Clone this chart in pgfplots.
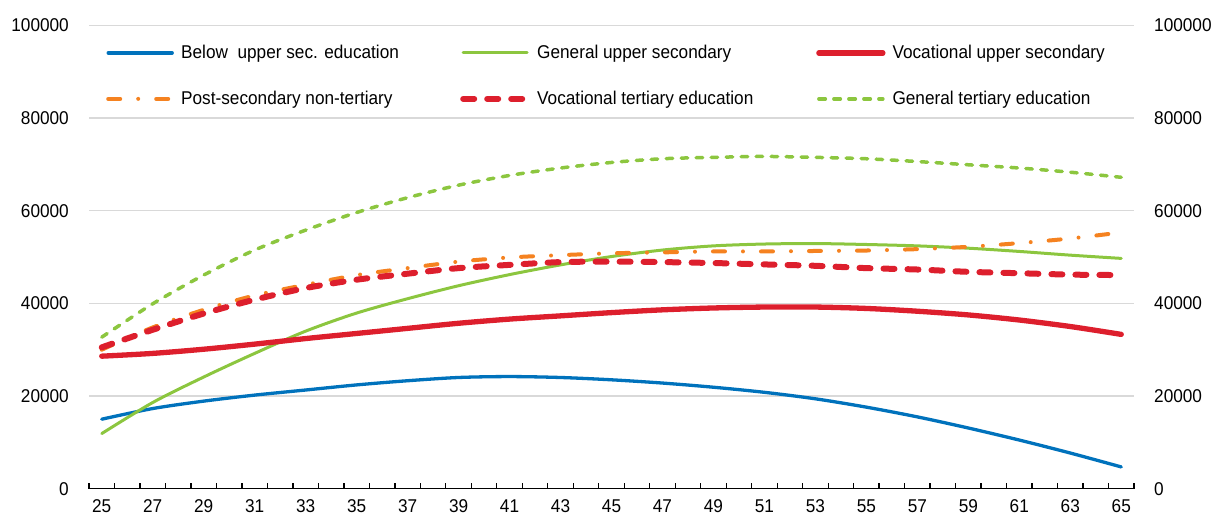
\documentclass[border=0pt]{standalone}
\usepackage{pgfplots}
\pgfplotsset{compat=1.18}
\usepackage{fontspec}
\setmainfont{Liberation Sans}[FakeStretch=0.93]
\definecolor{cblue}{RGB}{0,114,188}
\definecolor{cgreen}{RGB}{140,198,63}
\definecolor{cred}{RGB}{221,31,45}
\definecolor{corange}{RGB}{245,130,32}
\definecolor{cgrid}{RGB}{217,217,217}
\newcommand{\fs}{\fontsize{18.5}{22}\selectfont}
\begin{document}
\begin{tikzpicture}
\begin{axis}[
  name=ax,
  scale only axis, width=1045pt, height=463.4pt,
  xmin=24.5, xmax=65.5, ymin=0, ymax=100000,
  axis x line=bottom, axis y line=left,
  axis line style={-},
  x axis line style={-, black, line width=1.3pt},
  y axis line style={draw=none},
  xtick={25,27,...,65},
  minor xtick={24.5,25.5,...,65.5},
  xtick align=inside,
  major tick length=0pt,
  minor tick length=6pt,
  major x tick style={draw=none},
  minor x tick style={black, line width=1.3pt},
  ytick={0,20000,...,100000},
  scaled y ticks=false,
  ytick style={draw=none},
  ymajorgrids, major grid style={cgrid, line width=1.4pt},
  tick label style={font=\fs},
  /pgf/number format/assume math mode=true,
  /pgf/number format/1000 sep={},
  /pgf/number format/fixed,
  yticklabel style={anchor=east, inner sep=0pt, xshift=-20pt},
  xticklabel style={anchor=north, inner sep=0pt, yshift=-11pt},
  every axis plot/.append style={line cap=round, line join=round},
  legend columns=3,
  legend image code/.code={\draw[#1] (0pt,0pt) -- (64pt,0pt);},
  legend cell align=left,
  legend style={at={(axis description cs:0,1)}, anchor=north west,
    xshift=17pt, yshift=-20pt, draw=none, fill=none, inner sep=0pt,
    font=\fs, row sep=31pt, nodes={inner sep=0pt},
    /tikz/every odd column/.append style={column sep=7pt}},
]
\addplot[cblue, line width=3.3pt, smooth] coordinates {
(25,15000) (27,17300) (29,18900) (31,20200) (33,21300) (35,22400) (37,23300)
(39,24000) (41,24200) (43,24000) (45,23500) (47,22800) (49,21900) (51,20800)
(53,19400) (55,17600) (57,15500) (59,13100) (61,10500) (63,7700) (65,4700)};
\addlegendentry{\makebox[279pt][l]{Below\ \ upper sec. education}}
\addplot[cgreen, line width=3pt, smooth] coordinates {
(25,11900) (27,18600) (29,24100) (31,29200) (33,34000) (35,37900) (37,41000)
(39,43800) (41,46200) (43,48300) (45,50100) (47,51500) (49,52400) (51,52800)
(53,52900) (55,52700) (57,52400) (59,51900) (61,51200) (63,50400) (65,49700)};
\addlegendentry{\makebox[279pt][l]{General upper secondary}}
\addplot[cred, line width=5.3pt, smooth] coordinates {
(25,28600) (27,29200) (29,30100) (31,31200) (33,32400) (35,33500) (37,34600)
(39,35700) (41,36600) (43,37300) (45,38000) (47,38600) (49,39000) (51,39200)
(53,39200) (55,38900) (57,38300) (59,37500) (61,36400) (63,35000) (65,33300)};
\addlegendentry{\makebox[279pt][l]{Vocational upper secondary}}
\addplot[corange, line width=4pt, smooth, dash pattern=on 12pt off 18pt on 0pt off 18pt] coordinates {
(25,30000) (27,34800) (29,38600) (31,41700) (33,44000) (35,46100) (37,47600)
(39,49000) (41,49900) (43,50400) (45,50800) (47,51000) (49,51200) (51,51200)
(53,51300) (55,51400) (57,51700) (59,52200) (61,53000) (63,54000) (65,55300)};
\addlegendentry{\makebox[279pt][l]{Post-secondary non-tertiary}}
\addplot[cred, line width=6pt, smooth, dash pattern=on 11pt off 13pt] coordinates {
(25,30500) (27,34300) (29,37800) (31,40800) (33,43300) (35,45100) (37,46400)
(39,47600) (41,48300) (43,48900) (45,49000) (47,48900) (49,48700) (51,48400)
(53,48100) (55,47600) (57,47300) (59,46800) (61,46500) (63,46200) (65,46100)};
\addlegendentry{\makebox[279pt][l]{Vocational tertiary education}}
\addplot[cgreen, line width=3.5pt, smooth, dash pattern=on 6.5pt off 8.5pt] coordinates {
(25,32700) (27,39900) (29,46100) (31,51500) (33,55800) (35,59600) (37,62800)
(39,65500) (41,67600) (43,69200) (45,70400) (47,71200) (49,71500) (51,71700)
(53,71500) (55,71200) (57,70600) (59,69900) (61,69200) (63,68300) (65,67200)};
\addlegendentry{\makebox[279pt][l]{General tertiary education}}
\end{axis}
\begin{axis}[
  scale only axis, width=1045pt, height=463.4pt,
  xmin=24.5, xmax=65.5, ymin=0, ymax=100000,
  axis x line=none, axis y line=right,
  axis line style={-},
  y axis line style={draw=none},
  xtick=\empty,
  ytick={0,20000,...,100000},
  scaled y ticks=false,
  major tick length=0pt,
  ytick style={draw=none},
  tick label style={font=\fs},
  /pgf/number format/assume math mode=true,
  /pgf/number format/1000 sep={},
  /pgf/number format/fixed,
  yticklabel style={anchor=west, inner sep=0pt, xshift=20pt},
]
\end{axis}
\pgfresetboundingbox
\path[use as bounding box] ([xshift=-89pt,yshift=-24.3pt]ax.south west) rectangle ([xshift=78pt,yshift=25.3pt]ax.north east);
\end{tikzpicture}
\end{document}
